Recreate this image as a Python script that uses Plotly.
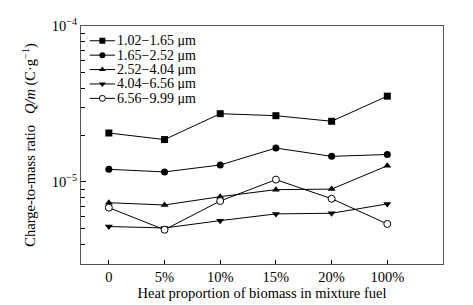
import plotly.graph_objects as go

categories = ["0", "5%", "10%", "15%", "20%", "100%"]
series_names = ["1.02−1.65 μm", "1.65−2.52 μm", "2.52−4.04 μm", "4.04−6.56 μm", "6.56−9.99 μm"]
s1 = [2.06e-5, 1.87e-5, 2.74e-5, 2.66e-5, 2.45e-5, 3.55e-5]
s2 = [1.205e-5, 1.16e-5, 1.285e-5, 1.65e-5, 1.46e-5, 1.50e-5]
s3 = [7.36e-6, 7.12e-6, 8.05e-6, 8.93e-6, 9.0e-6, 1.27e-5]
s4 = [5.18e-6, 5.07e-6, 5.65e-6, 6.24e-6, 6.30e-6, 7.23e-6]
s5 = [6.84e-6, 4.94e-6, 7.55e-6, 1.035e-5, 7.81e-6, 5.38e-6]
y_major = [1e-5, 1e-4]
y_major_text = ["10<sup>−5</sup>", "10<sup>−4</sup>"]
y_minor = [4e-6, 5e-6, 6e-6, 7e-6, 8e-6, 9e-6, 2e-5, 3e-5, 4e-5, 5e-5, 6e-5, 7e-5, 8e-5, 9e-5]

font = "Liberation Serif, Times New Roman, serif"
FS = 14.5
LFS = 14

def marker_for(sym, size=7):
    if sym == "open":
        return dict(symbol="circle", size=size, color="white", line=dict(color="black", width=1))
    return dict(symbol=sym, size=size, color="black", line=dict(width=0))

symbols = ["square", "circle", "triangle-up", "triangle-down", "open"]
xs = list(range(len(categories)))
fig = go.Figure()
for name, ys, sym in zip(series_names, [s1, s2, s3, s4, s5], symbols):
    fig.add_trace(go.Scatter(x=xs, y=ys, name=name, mode="lines+markers", showlegend=False,
                             line=dict(color="black", width=1), marker=marker_for(sym)))

# Compact legend (layout): sample glyphs on an overlay axis in plot-fraction units
leg_x0, leg_x1, leg_text_x = 0.024, 0.094, 0.098
leg_y_top, leg_step = 0.938, 0.0605
for i, (name, sym) in enumerate(zip(series_names, symbols)):
    yy = leg_y_top - i * leg_step
    fig.add_trace(go.Scatter(x=[leg_x0, leg_x1], y=[yy, yy],
                             xaxis="x2", yaxis="y2", mode="lines", showlegend=False,
                             hoverinfo="skip", line=dict(color="black", width=1)))
    fig.add_trace(go.Scatter(x=[(leg_x0 + leg_x1) / 2], y=[yy], xaxis="x2", yaxis="y2",
                             mode="markers", showlegend=False, hoverinfo="skip",
                             marker=marker_for(sym, 6)))
    fig.add_annotation(x=leg_text_x, y=yy, xref="x2", yref="y2", text=name, showarrow=False,
                       xanchor="left", yanchor="middle", height=13, borderpad=0, valign="middle",
                       font=dict(family=font, size=LFS))

axis_common = dict(showgrid=False, zeroline=False, showline=True, linecolor="#555",
                   mirror=True, linewidth=1, automargin=False, tickcolor="black")
fig.update_layout(
    width=473, height=305,
    margin=dict(l=73, r=38, t=18, b=49),
    paper_bgcolor="white", plot_bgcolor="white",
    font=dict(family=font, size=FS, color="black"),
    showlegend=False,
    xaxis=dict(range=[-0.5, 6.0], tickvals=xs, ticktext=categories,
               ticks="inside", ticklen=4, **axis_common,
               title=dict(text="Heat proportion of biomass in mixture fuel", standoff=3,
                          font=dict(family=font, size=FS))),
    yaxis=dict(type="log", range=[-5.526, -4], tickvals=y_major, ticktext=y_major_text,
               ticks="inside", ticklen=5, **axis_common,
               minor=dict(tickvals=y_minor, ticks="inside", ticklen=4, tickcolor="black", showgrid=False),
               title=dict(text="Charge-to-mass ratio   <i>Q/m</i> (C·g<sup>−1</sup>)", standoff=12,
                          font=dict(family=font, size=FS))),
    xaxis2=dict(overlaying="x", range=[0, 1], visible=False, fixedrange=True),
    yaxis2=dict(overlaying="y", range=[0, 1], visible=False, fixedrange=True),
)
fig.write_html("out.html")
